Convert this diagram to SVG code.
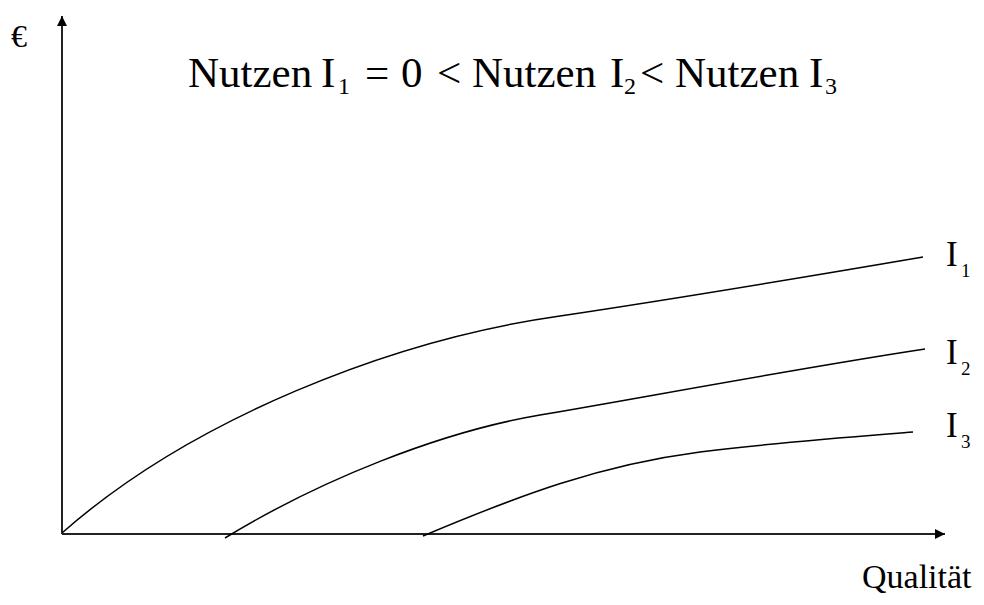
<svg xmlns="http://www.w3.org/2000/svg" width="984" height="605" viewBox="0 0 984 605">
<style>
.t{font-family:"Liberation Serif","Times New Roman",serif;fill:#000}
.sub{font-size:24px}
.lsub{font-size:19px}
.axis{stroke:#222;stroke-width:2;fill:none}
.curve{stroke:#000;stroke-width:1.5;fill:none}
</style>
<defs>
<marker id="ah" viewBox="0 0 10 10" refX="10" refY="5" markerWidth="10" markerHeight="10" markerUnits="userSpaceOnUse" orient="auto">
<path d="M0,0 L10,5 L0,10 z" fill="#000"/>
</marker>
</defs>
<rect width="984" height="605" fill="#fff"/>
<g id="axes">
<line class="axis" x1="62" y1="534" x2="62" y2="16" marker-end="url(#ah)"/>
<line class="axis" x1="62" y1="534" x2="945" y2="534" marker-end="url(#ah)"/>
</g>
<g id="connectors">
<path id="I1" class="curve" d="M62,533 C190,420 390,340 560,316 C680,298 800,278 923,257"/>
<path id="I2" class="curve" d="M225,538 C320,480 440,432 540,415 C640,398 800,368 925,349"/>
<path id="I3" class="curve" d="M423,536 C520,495 600,465 700,452 C780,442 850,437 913,432"/>
</g>
<g id="labels">
<text class="t" x="11" y="47" font-size="32">€</text>
<text class="t" y="87" font-size="43"><tspan x="188">Nutzen</tspan><tspan x="321">I</tspan><tspan x="338" y="94" class="sub">1</tspan><tspan x="365" y="87">=</tspan><tspan x="401">0</tspan><tspan x="437">&lt;</tspan><tspan x="472">Nutzen</tspan><tspan x="610">I</tspan><tspan x="624" y="94" class="sub">2</tspan><tspan x="640" y="87">&lt;</tspan><tspan x="675">Nutzen</tspan><tspan x="809">I</tspan><tspan x="825" y="94" class="sub">3</tspan></text>
<text class="t" x="946" y="266" font-size="35">I<tspan class="lsub" x="961" y="277">1</tspan></text>
<text class="t" x="946" y="364" font-size="35">I<tspan class="lsub" x="961" y="375">2</tspan></text>
<text class="t" x="946" y="437" font-size="35">I<tspan class="lsub" x="961" y="448">3</tspan></text>
<text class="t" x="862" y="588" font-size="34">Qualität</text>
</g>
</svg>
